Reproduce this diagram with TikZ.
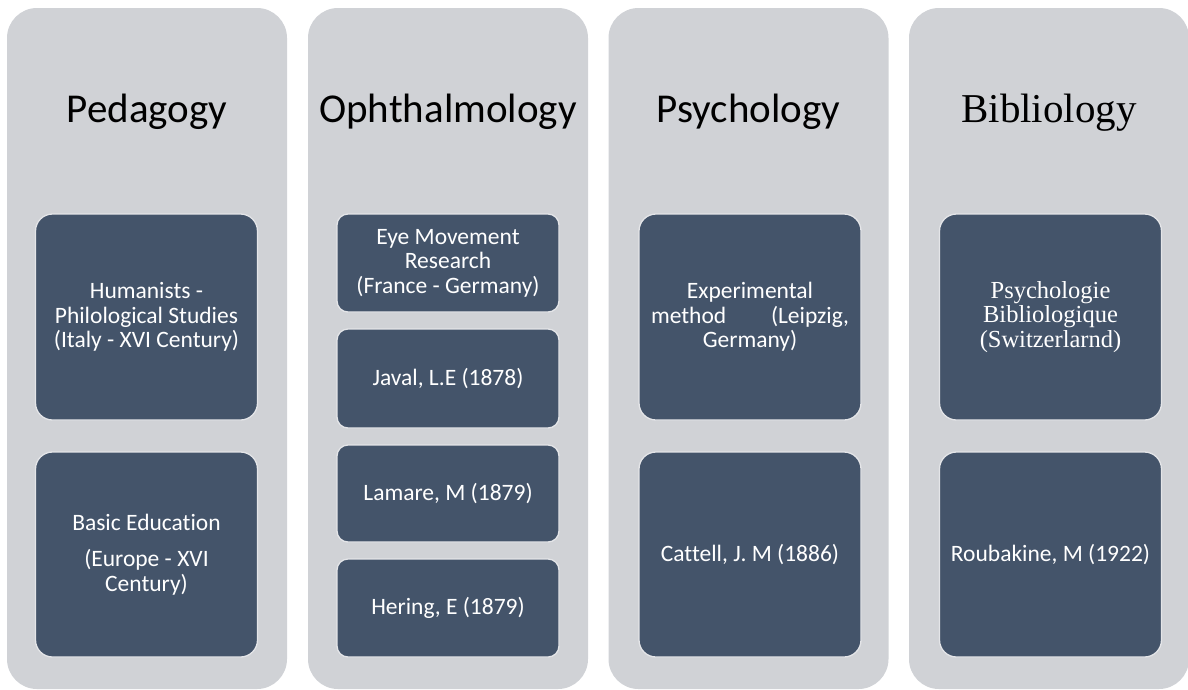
\documentclass[tikz,border=0pt]{standalone}
\usepackage{fontspec}
\setmainfont{Carlito}[Ligatures=NoCommon]
\newfontfamily\serifface{Liberation Serif}
\definecolor{colbg}{HTML}{D0D2D6}
\definecolor{boxbg}{HTML}{44546A}
\definecolor{boxedge}{HTML}{E4E5E8}
\tikzset{
  col/.style={fill=colbg, draw=none, rounded corners=30pt, minimum width=280pt, minimum height=681pt, inner sep=0pt},
  tbox/.style={fill=boxbg, draw=boxedge, line width=1.3pt, rounded corners=17pt, minimum width=222pt, inner sep=0pt,
    text=white, align=center, font=\fontsize{23.5}{24.5}\selectfont},
  sbox/.style={tbox, rounded corners=11pt},
  title/.style={anchor=base, font=\fontsize{41}{44}\selectfont, text=black}
}
\begin{document}
\begin{tikzpicture}[x=1pt, y=-1pt]
\useasboundingbox (0,0) rectangle (1188,689);
% columns
\node[col] (c1) at (147,348.5) {};
\node[col] (c2) at (448,348.5) {};
\node[col] (c3) at (748.5,348.5) {};
\node[col] (c4) at (1049,348.5) {};
% titles
\node[title] (t1) at (147,122) {Pedagogy};
\node[title] (t2) at (448,122) {Ophthalmology};
\node[title] (t3) at (748.5,122) {Psychology};
\node[title, font=\serifface\fontsize{41}{44}\selectfont] (t4) at (1049,122) {Bibliology};
% column 1
\node[tbox, minimum height=206pt] (p1) at (146.5,317) {Humanists -\\Philological Studies\\(Italy - XVI Century)};
\node[tbox, minimum height=205pt] (p2) at (146.5,554.5) {Basic Education\\[12pt](Europe - XVI\\Century)};
% column 2
\node[sbox, minimum height=98pt] (o1) at (448,263) {Eye Movement\\Research\\(France - Germany)};
\node[sbox, minimum height=99pt] (o2) at (448,378.5) {Javal, L.E (1878)};
\node[sbox, minimum height=97pt] (o3) at (448,493.5) {Lamare, M (1879)};
\node[sbox, minimum height=98pt] (o4) at (448,608) {Hering, E (1879)};
% column 3
\node[tbox, minimum height=206pt] (s1) at (750,317) {Experimental\\\makebox[198pt]{method\hfill(Leipzig,}\\Germany)};
\node[tbox, minimum height=205pt] (s2) at (750,554.5) {Cattell, J. M (1886)};
% column 4
\node[tbox, minimum height=206pt, font=\serifface\fontsize{24.5}{24.5}\selectfont] (b1) at (1050.5,317) {Psychologie\\Bibliologique\\(Switzerlarnd)};
\node[tbox, minimum height=205pt] (b2) at (1050.5,554.5) {Roubakine, M (1922)};
\end{tikzpicture}
\end{document}
